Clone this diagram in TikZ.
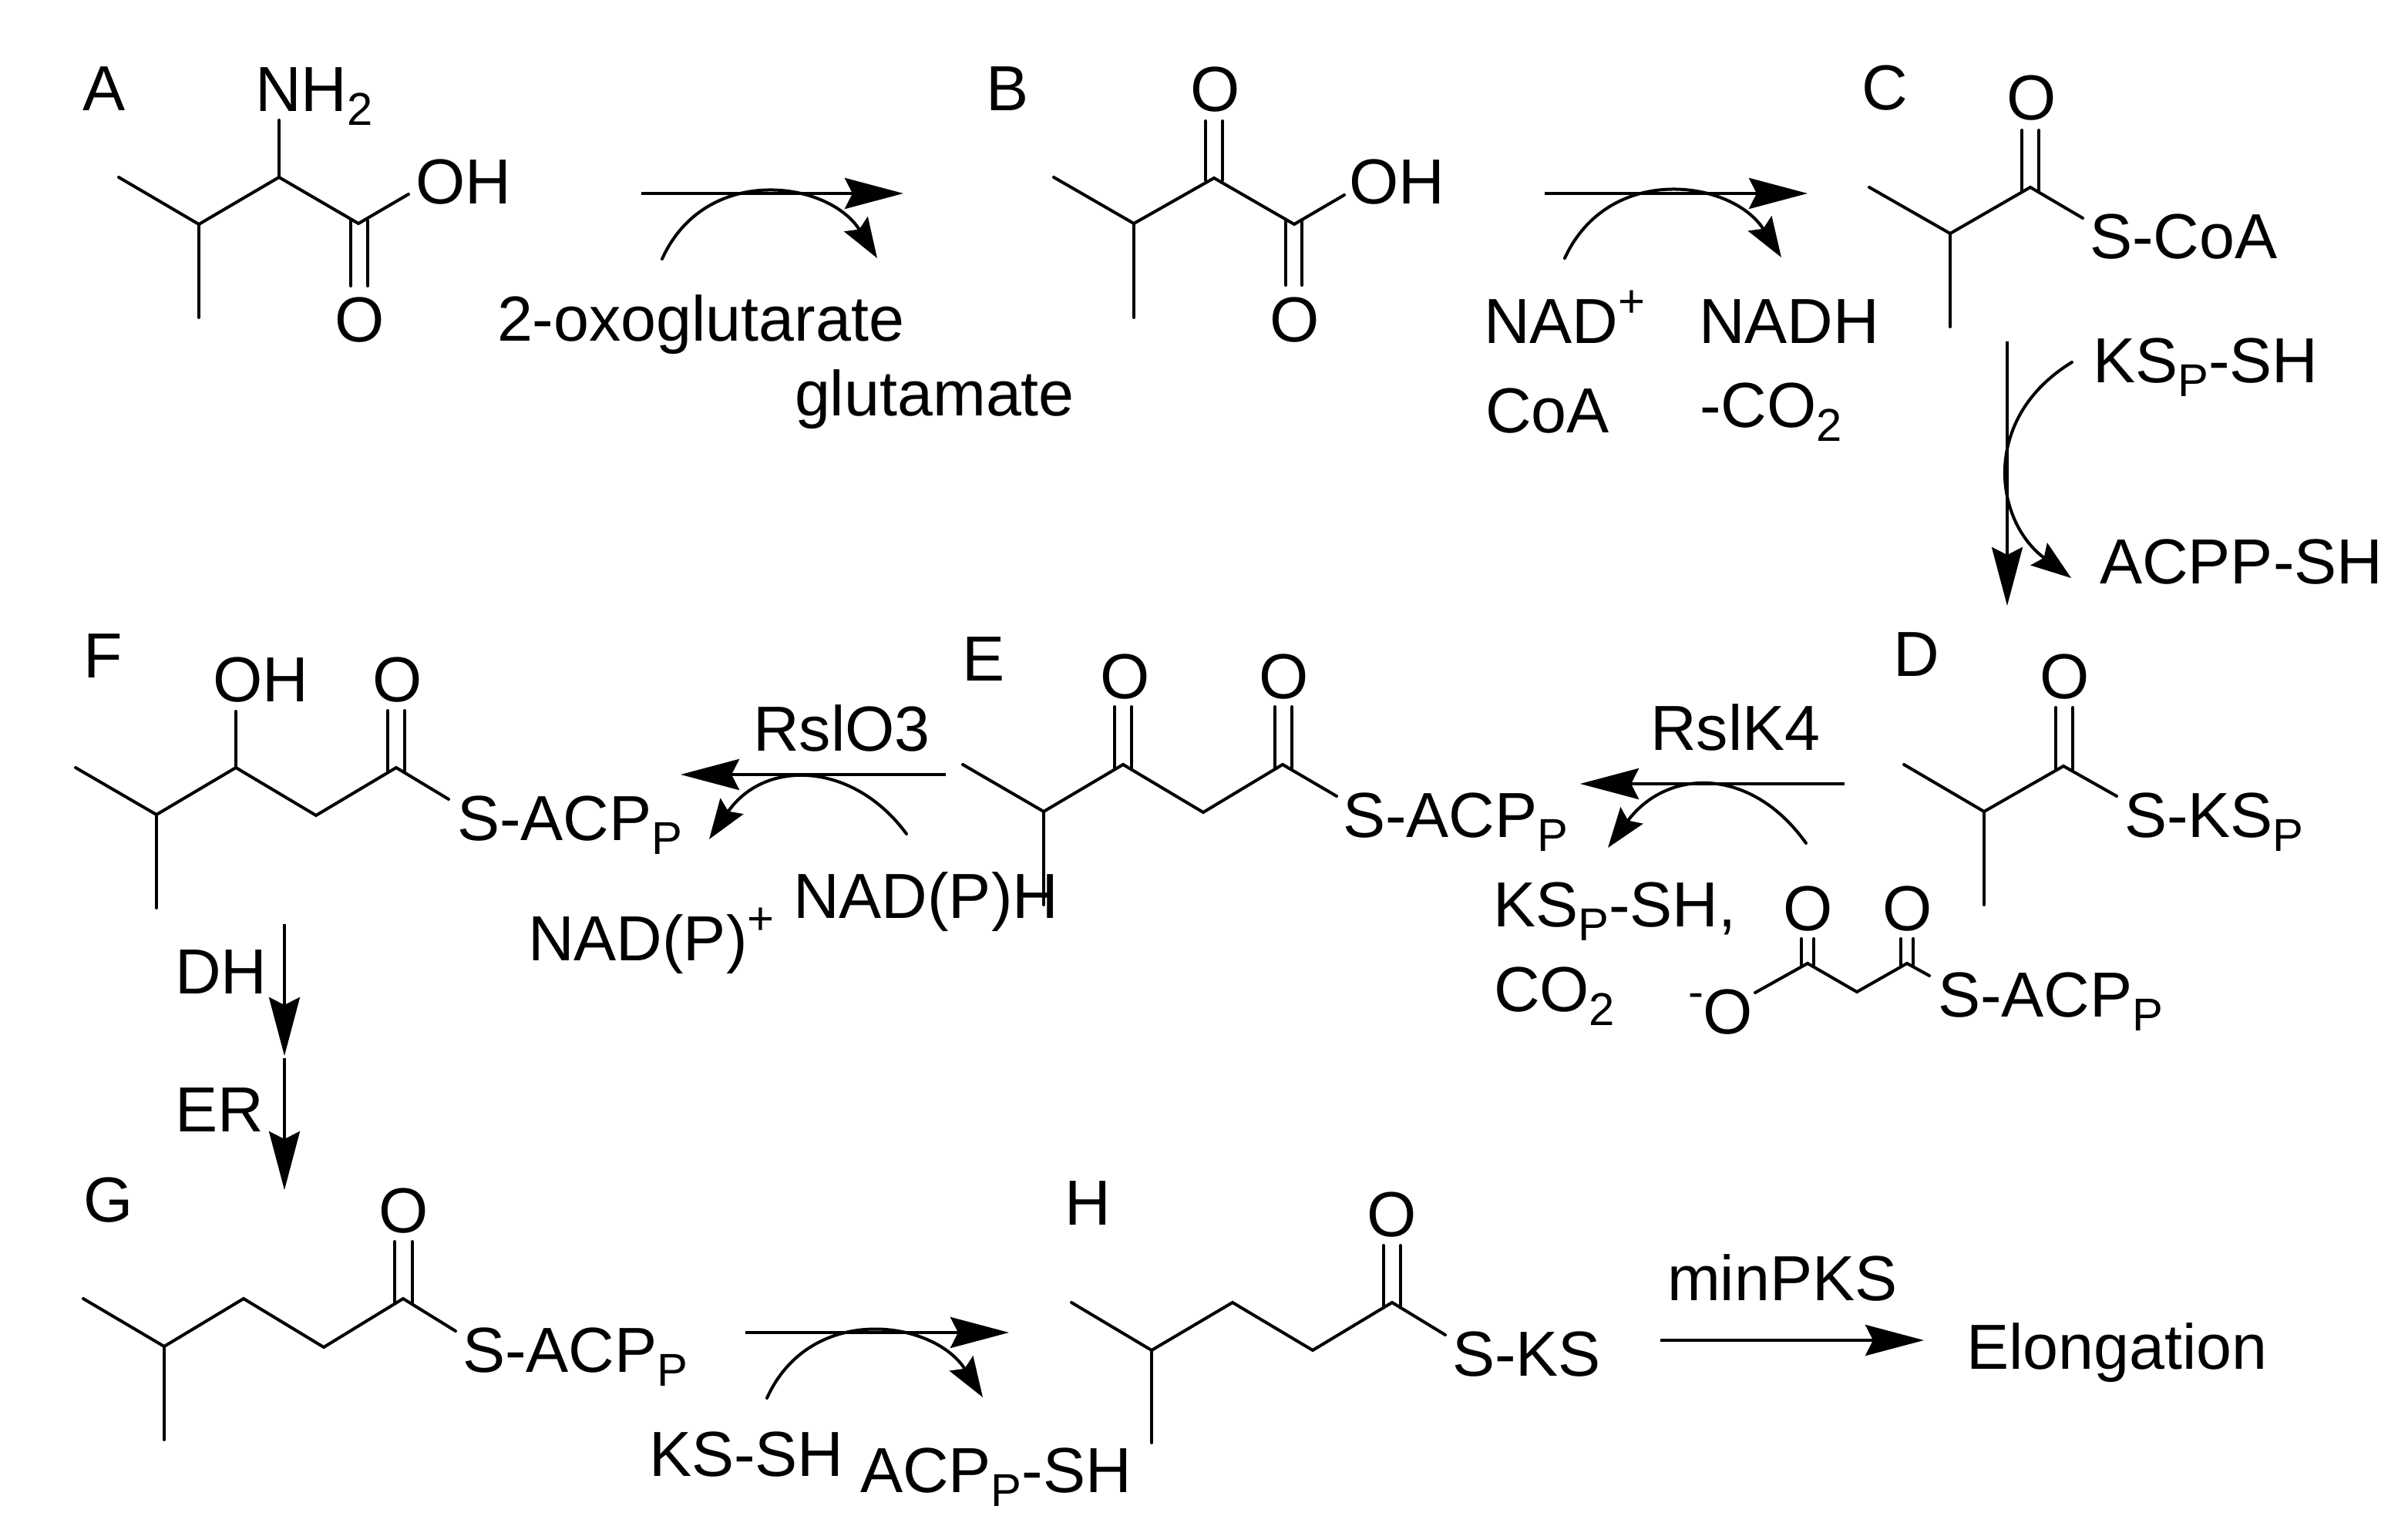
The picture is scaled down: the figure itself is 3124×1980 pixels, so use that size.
\documentclass[tikz,border=0pt]{standalone}
\usepackage{fontspec}
\setmainfont{Liberation Sans}
\usetikzlibrary{arrows.meta}
\newcommand\lowsub[1]{\raisebox{-.18cm}{\fontsize{17pt}{17pt}\selectfont #1}}
\newcommand\highsup[1]{\raisebox{.34cm}{\fontsize{17pt}{17pt}\selectfont #1}}
\tikzset{
  lbl/.style={anchor=base west,inner sep=0pt,outer sep=0pt,yshift=-.025cm,font=\fontsize{23.5pt}{23.5pt}\selectfont},
  bond/.style={line width=.04cm,line cap=round,line join=miter},
  rxn/.style={line width=.042cm,-{Stealth[length=.76cm,width=.4cm,inset=.1cm]}},
  rxnv/.style={line width=.034cm,-{Stealth[length=.76cm,width=.4cm,inset=.1cm]}},
  side/.style={line width=.04cm,line cap=round,-{Stealth[length=.52cm,width=.36cm,inset=.08cm]}}
}
\begin{document}
\begin{tikzpicture}[x=.01cm,y=-.01cm]
\useasboundingbox (0,0) rectangle (3124,1980);
% --- A
\draw[bond] (154,230) -- (258,291) -- (362,230) -- (465,290) -- (530,252);
\draw[bond] (258,291) -- (258,412);
\draw[bond] (362,230) -- (362,156);
\draw[bond] (455,286) -- (455,371);
\draw[bond] (477,286) -- (477,371);
\node[lbl] (tA) at (107,141) {A};
\node[lbl] (nh2) at (331,142) {NH\lowsub{2}};
\node[lbl] (ohA) at (539,262) {OH};
\node[lbl] (oA) at (434,441) {O};
% --- A to B
\coordinate (ab1) at (832,251); \coordinate (ab2) at (1172,251);
\draw[rxn] (ab1) -- (ab2);
\coordinate (abc1) at (859,336); \coordinate (abc2) at (1138,335);
\draw[side] (abc1) .. controls (915,212) and (1075,234) .. (abc2);
\node[lbl] (oxo) at (645,440) {2-oxoglutarate};
\node[lbl] (glu) at (1031,537) {glutamate};
% --- B
\draw[bond] (1367,230) -- (1471,290) -- (1575,231) -- (1679,291) -- (1744,253);
\draw[bond] (1471,290) -- (1471,412);
\draw[bond] (1564,157) -- (1564,234);
\draw[bond] (1586,157) -- (1586,234);
\draw[bond] (1668,287) -- (1668,370);
\draw[bond] (1689,287) -- (1689,370);
\node[lbl] (tB) at (1279,141) {B};
\node[lbl] (oB1) at (1544,142) {O};
\node[lbl] (ohB) at (1750,262) {OH};
\node[lbl] (oB2) at (1647,441) {O};
% --- B to C
\coordinate (bc1) at (2004,251); \coordinate (bc2) at (2345,251);
\draw[rxn] (bc1) -- (bc2);
\coordinate (bcc1) at (2030,335); \coordinate (bcc2) at (2311,334);
\draw[side] (bcc1) .. controls (2087,211) and (2247,233) .. (bcc2);
\node[lbl] (nad) at (1925,443) {NAD\highsup{+}};
\node[lbl] (nadh) at (2204,443) {NADH};
\node[lbl] (coa) at (1927,559) {CoA};
\node[lbl] (co2) at (2205,552) {-CO\lowsub{2}};
% --- C
\draw[bond] (2425,243) -- (2530,303) -- (2634,243) -- (2702,283);
\draw[bond] (2530,303) -- (2530,424);
\draw[bond] (2623,169) -- (2623,248);
\draw[bond] (2645,169) -- (2645,248);
\node[lbl] (tC) at (2415,140) {C};
\node[lbl] (oC) at (2603,153) {O};
\node[lbl] (scoa) at (2711,333) {S-CoA};
% --- C to D
\coordinate (cd1) at (2604,443); \coordinate (cd2) at (2604,786);
\draw[rxnv] (cd1) -- (cd2);
\coordinate (cdc1) at (2688,470); \coordinate (cdc2) at (2687,750);
\draw[side] (cdc1) .. controls (2570,542) and (2586,675) .. (cdc2);
\node[lbl] (ksp) at (2715,494) {KS\lowsub{P}-SH};
\node[lbl] (acpp) at (2724,755) {ACPP-SH};
% --- D
\draw[bond] (2470,992) -- (2574,1053) -- (2677,994) -- (2746,1033);
\draw[bond] (2574,1053) -- (2574,1174);
\draw[bond] (2667,918) -- (2667,998);
\draw[bond] (2689,918) -- (2689,998);
\node[lbl] (tD) at (2456,875) {D};
\node[lbl] (oD) at (2646,904) {O};
\node[lbl] (sksp) at (2756,1084) {S-KS\lowsub{P}};
% --- D to E
\coordinate (de1) at (2393,1017); \coordinate (de2) at (2050,1017);
\draw[rxn] (de1) -- (de2);
\coordinate (dec1) at (2343,1094); \coordinate (dec2) at (2086,1100);
\draw[side] (dec1) .. controls (2271,993) and (2162,997) .. (dec2);
\node[lbl] (rslk) at (2141,971) {RslK4};
\node[lbl] (ksp2) at (1937,1200) {KS\lowsub{P}-SH,};
\node[lbl] (co2b) at (1938,1310) {CO\lowsub{2}};
% --- malonyl
\draw[bond] (2277,1288) -- (2345,1250) -- (2409,1287) -- (2474,1250) -- (2503,1266);
\draw[bond] (2337,1218) -- (2337,1252);
\draw[bond] (2353,1218) -- (2353,1252);
\draw[bond] (2466,1218) -- (2466,1252);
\draw[bond] (2482,1218) -- (2482,1252);
\node[lbl] (ominus) at (2190,1339) {\highsup{-}O};
\node[lbl] (oM1) at (2313,1205) {O};
\node[lbl] (oM2) at (2442,1205) {O};
\node[lbl] (sacpM) at (2514,1317) {S-ACP\lowsub{P}};
% --- E
\draw[bond] (1249,992) -- (1354,1053) -- (1457,992) -- (1561,1054) -- (1664,992) -- (1734,1033);
\draw[bond] (1354,1053) -- (1354,1174);
\draw[bond] (1446,917) -- (1446,998);
\draw[bond] (1468,917) -- (1468,998);
\draw[bond] (1654,917) -- (1654,998);
\draw[bond] (1676,917) -- (1676,998);
\node[lbl] (tE) at (1248,881) {E};
\node[lbl] (oE1) at (1427,904) {O};
\node[lbl] (oE2) at (1633,904) {O};
\node[lbl] (sacpE) at (1742,1084) {S-ACP\lowsub{P}};
% --- E to F
\coordinate (ef1) at (1227,1005); \coordinate (ef2) at (883,1005);
\draw[rxn] (ef1) -- (ef2);
\coordinate (efc1) at (1176,1082); \coordinate (efc2) at (920,1089);
\draw[side] (efc1) .. controls (1107,988) and (992,984) .. (efc2);
\node[lbl] (rslo) at (977,972) {RslO3};
\node[lbl] (nadph) at (1029,1189) {NAD(P)H};
\node[lbl] (nadp) at (685,1244) {NAD(P)\highsup{+}};
% --- F
\draw[bond] (98,996) -- (203,1057) -- (306,996) -- (410,1058) -- (514,996) -- (582,1037);
\draw[bond] (203,1057) -- (203,1178);
\draw[bond] (306,996) -- (306,923);
\draw[bond] (503,922) -- (503,1000);
\draw[bond] (525,922) -- (525,1000);
\node[lbl] (tF) at (108,877) {F};
\node[lbl] (ohF) at (276,908) {OH};
\node[lbl] (oF) at (483,908) {O};
\node[lbl] (sacpF) at (593,1088) {S-ACP\lowsub{P}};
% --- F to G
\coordinate (fg1) at (369,1199); \coordinate (fg2) at (369,1370);
\draw[rxnv] (fg1) -- (fg2);
\coordinate (fg3) at (369,1373); \coordinate (fg4) at (369,1544);
\draw[rxnv] (fg3) -- (fg4);
\node[lbl] (dh) at (227,1287) {DH};
\node[lbl] (er) at (227,1466) {ER};
% --- G
\draw[bond] (108,1685) -- (213,1747) -- (316,1685) -- (420,1748) -- (523,1685) -- (591,1727);
\draw[bond] (213,1747) -- (213,1868);
\draw[bond] (512,1611) -- (512,1690);
\draw[bond] (535,1611) -- (535,1690);
\node[lbl] (tG) at (108,1583) {G};
\node[lbl] (oG) at (491,1597) {O};
\node[lbl] (sacpG) at (600,1778) {S-ACP\lowsub{P}};
% --- G to H
\coordinate (gh1) at (967,1729); \coordinate (gh2) at (1309,1729);
\draw[rxn] (gh1) -- (gh2);
\coordinate (ghc1) at (995,1814); \coordinate (ghc2) at (1275,1813);
\draw[side] (ghc1) .. controls (1051,1690) and (1211,1712) .. (ghc2);
\node[lbl] (kssh) at (842,1913) {KS-SH};
\node[lbl] (acpsh) at (1116,1934) {ACP\lowsub{P}-SH};
% --- H
\draw[bond] (1390,1690) -- (1494,1752) -- (1599,1690) -- (1703,1752) -- (1806,1690) -- (1875,1732);
\draw[bond] (1494,1752) -- (1494,1872);
\draw[bond] (1795,1616) -- (1795,1697);
\draw[bond] (1817,1616) -- (1817,1697);
\node[lbl] (tH) at (1381,1587) {H};
\node[lbl] (oH) at (1773,1602) {O};
\node[lbl] (sks) at (1884,1783) {S-KS};
% --- H to elongation
\coordinate (he1) at (2154,1739);
\coordinate (he2) at (2496,1739);
\draw[rxn] (he1) -- (he2);
\node[lbl] (minp) at (2163,1685) {minPKS};
\node[lbl] (elong) at (2551,1774) {Elongation};
\end{tikzpicture}
\end{document}
